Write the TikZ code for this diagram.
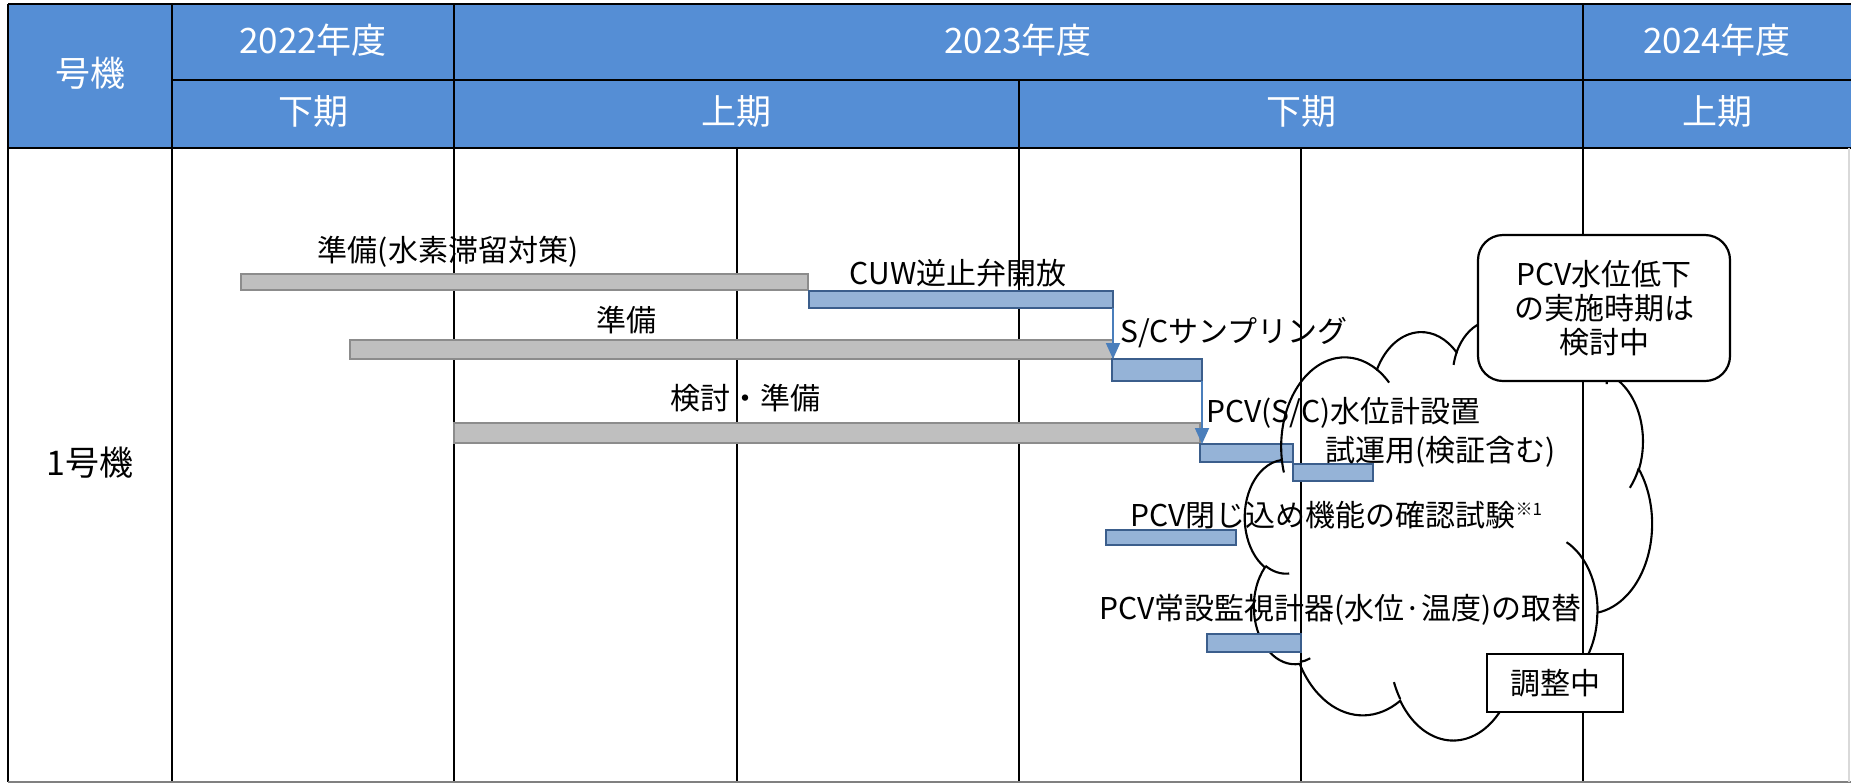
\documentclass[tikz,border=0pt]{standalone}
\usepackage{fontspec}
\setmainfont{Noto Sans CJK JP}
\usetikzlibrary{arrows.meta}
\definecolor{hdr}{HTML}{558ED5}
\definecolor{gbarf}{HTML}{BFBFBF}
\definecolor{gbard}{HTML}{8C8C8C}
\definecolor{bbarf}{HTML}{95B3D7}
\definecolor{bbard}{HTML}{3B5E8C}
\definecolor{connc}{HTML}{4A7EBB}
\tikzset{
  gridline/.style={line width=1.2pt,black},
  barbase/.style={rectangle,inner sep=0pt,outer sep=0pt,anchor=north west,line width=0.95pt},
  gbar/.style={barbase,fill=gbarf,draw=gbard},
  bbar/.style={barbase,fill=bbarf,draw=bbard},
  connarrow/.style={draw=connc,line width=0.9pt,-{Triangle[width=7pt,length=8pt]}},
  hdrtext/.style={text=white,inner sep=0pt,font=\fontsize{17.5}{20}\selectfont},
  lbl/.style={inner sep=0pt,font=\fontsize{15}{17}\selectfont},
  cloudline/.style={draw=black,line width=1.05pt},
  rbox/.style={draw=black,fill=white,line width=1.1pt,rounded corners=12.5pt,minimum width=126pt,minimum height=73pt,align=center,inner sep=0pt,font=\fontsize{15}{17}\selectfont},
  sqbox/.style={draw=black,fill=white,line width=1.1pt,minimum width=68pt,minimum height=29pt,inner sep=0pt,font=\fontsize{15}{17}\selectfont},
  carc/.style n args={4}{insert path={arc[x radius=#1,y radius=#2,start angle={atan2((#1)*sin(#3),(#2)*cos(#3))},delta angle={mod(atan2((#1)*sin((#3)+(#4)),(#2)*cos((#3)+(#4)))-atan2((#1)*sin(#3),(#2)*cos(#3))+720,360)}]}}
}
\begin{document}
\begin{tikzpicture}[x=0.5pt,y=0.5pt,yscale=-1]
\useasboundingbox (0,0) rectangle (1851,783);
\fill[white] (0,0) rectangle (1851,783);
% header
\fill[hdr] (8,4) rectangle (1851,148);
\draw[gridline] (8,4) -- (1851,4);
\draw[gridline] (172,80) -- (1851,80);
\draw[gridline] (8,148) -- (1851,148);
\draw[gridline] (8,4) -- (8,782);
\draw[gridline] (172,4) -- (172,782);
\draw[gridline] (454,4) -- (454,782);
\draw[gridline] (737,148) -- (737,782);
\draw[gridline] (1019,80) -- (1019,782);
\draw[gridline] (1301,148) -- (1301,782);
\draw[gridline] (1583,4) -- (1583,782);
\draw[gray,line width=0.8pt] (8,782) -- (1851,782);
\draw[black!15,line width=0.6pt] (1849,148) -- (1849,782);
% header texts
\node[hdrtext] (hunit) at (90,73) {号機};
\node[hdrtext] (y22) at (313,40) {2022年度};
\node[hdrtext] (y23) at (1018,40) {2023年度};
\node[hdrtext] (y24) at (1717,40) {2024年度};
\node[hdrtext] (h1) at (313,111) {下期};
\node[hdrtext] (h2) at (736,111) {上期};
\node[hdrtext] (h3) at (1301,111) {下期};
\node[hdrtext] (h4) at (1717,111) {上期};
\node[inner sep=0pt,font=\fontsize{17}{20}\selectfont] (unit) at (90,463) {1号機};
% bars
\node[gbar,minimum width=283.5pt,minimum height=8pt] (g1) at (241,274) {};
\node[bbar,minimum width=152pt,minimum height=8.5pt] (cuw) at (809,291) {};
\node[gbar,minimum width=381.5pt,minimum height=9.5pt] (g2) at (350,340) {};
\node[bbar,minimum width=45pt,minimum height=11pt] (sc) at (1112,359) {};
\node[gbar,minimum width=373pt,minimum height=10pt] (g3) at (454,423) {};
\node[bbar,minimum width=46.5pt,minimum height=9pt] (pcvsc) at (1200,444) {};
\node[bbar,minimum width=40pt,minimum height=8.5pt] (trial) at (1293,464) {};
\node[bbar,minimum width=65pt,minimum height=7.5pt] (conf) at (1106,530) {};
% connectors
\draw[connarrow] (cuw.south east) -- (cuw.south east |- sc.north);
\draw[connarrow] (sc.south east) -- (sc.south east |- pcvsc.north);
% labels
\node[lbl] (t1) at (448,252) {準備(水素滞留対策)};
\node[lbl] (t2) at (958,273) {CUW逆止弁開放};
\node[lbl] (t3) at (626,320) {準備};
\node[lbl,anchor=west] (t4) at (1120,333) {S/Cサンプリング};
\node[lbl] (t5) at (745,398) {検討・準備};
\node[lbl,anchor=west] (t6) at (1206,413) {PCV(S/C)水位計設置};
\node[lbl,anchor=west] (t7) at (1325,452) {試運用(検証含む)};
\node[lbl,anchor=west] (t8) at (1130,515) {PCV閉じ込め機能の確認試験\smash{\raisebox{5.5pt}{\fontsize{8.5}{10}\selectfont ※1}}};
\node[lbl,anchor=west] (t9) at (1099,610) {PCV常設監視計器(水位·温度)の取替};
% cloud
\begin{scope}[shift={(1245,319)},xscale=0.942,yscale=0.9722]
\draw[cloudline] (39.00,143.70)
  [carc={67.53}{91.90}{-190.487}{123.781}]
  [carc={53.33}{72.67}{-144.102}{89.945}]
  [carc={43.65}{59.45}{-145.808}{99.723}]
  [carc={48.57}{65.95}{-130.986}{117.242}]
  [carc={53.33}{72.73}{-78.709}{109.027}]
  [carc={67.75}{92.20}{-46.267}{130.269}]
  [carc={57.85}{78.67}{0.625}{114.033}]
  [carc={67.52}{92.15}{22.452}{115.173}]
  [carc={77.20}{105.43}{66.243}{75.711}]
  [carc={43.60}{59.18}{-274.942}{146.736}]
  [carc={43.45}{59.45}{-246.829}{152.519}] -- cycle;
\draw[cloudline]
  (46.93,261.77) [carc={43.45}{59.45}{86.742}{26.43}]
  (69.28,348.99) [carc={43.60}{59.18}{73.61}{11.45}]
  (164.78,390.90) [carc={67.52}{92.15}{137.62}{14.08}]
  (288.27,347.51) [carc={67.52}{92.15}{6.45}{16.0}]
  (341.29,229.54) [carc={57.85}{78.67}{-70.7}{71.3}]
  (417.98,153.54) [carc={53.33}{72.73}{30.386}{20.6}]
  (383.24,54.26) [carc={48.57}{65.95}{-13.744}{14.86}]
  (290.78,39.52) [carc={48.57}{65.95}{-149.18}{18.19}]
  (221.41,47.20) [carc={43.65}{59.45}{-163.49}{17.68}]
  (140.00,51.92) [carc={67.53}{91.90}{-66.707}{12.32}]
  (41.27,157.89) [carc={67.53}{91.90}{157.65}{11.86}];
\end{scope}
\node[bbar,minimum width=47pt,minimum height=9pt] (repl) at (1207,634) {};
% boxes
\node[rbox] (plan) at (1604,308) {PCV水位低下\\の実施時期は\\検討中};
\node[sqbox] (adj) at (1555,683) {調整中};
\end{tikzpicture}
\end{document}
